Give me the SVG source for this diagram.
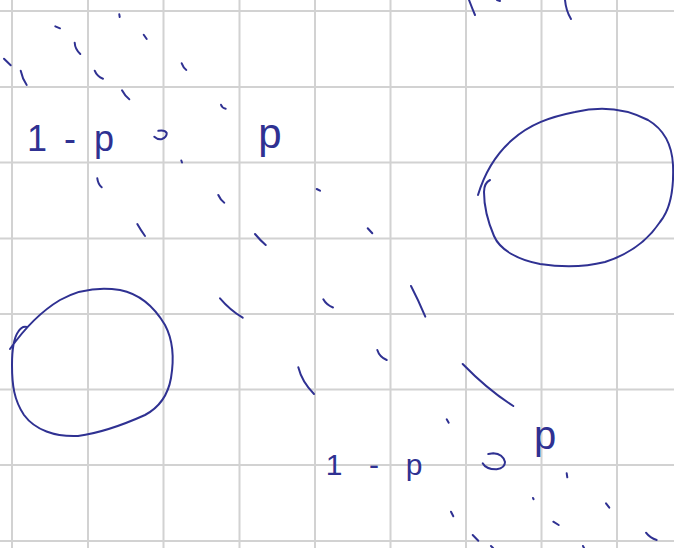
<svg xmlns="http://www.w3.org/2000/svg" width="674" height="548" viewBox="0 0 674 548">
<style>
.grid line{stroke:#d2d2d2;stroke-width:2}
.ink{fill:none;stroke:#2f3192;stroke-width:2;stroke-linecap:round;stroke-linejoin:round}
.lbl{font-family:"Liberation Sans","DejaVu Sans",sans-serif;fill:#2f3192;text-anchor:middle}
</style>
<rect width="674" height="548" fill="#ffffff"/>
<g class="grid" id="grid">
<line x1="12" y1="0" x2="12" y2="548"/><line x1="88" y1="0" x2="88" y2="548"/>
<line x1="163.5" y1="0" x2="163.5" y2="548"/><line x1="239.5" y1="0" x2="239.5" y2="548"/>
<line x1="315" y1="0" x2="315" y2="548"/><line x1="390.5" y1="0" x2="390.5" y2="548"/>
<line x1="466" y1="0" x2="466" y2="548"/><line x1="541.5" y1="0" x2="541.5" y2="548"/>
<line x1="617" y1="0" x2="617" y2="548"/>
<line x1="0" y1="11" x2="674" y2="11"/><line x1="0" y1="87" x2="674" y2="87"/>
<line x1="0" y1="162.5" x2="674" y2="162.5"/><line x1="0" y1="238.5" x2="674" y2="238.5"/>
<line x1="0" y1="314" x2="674" y2="314"/><line x1="0" y1="389.5" x2="674" y2="389.5"/>
<line x1="0" y1="465" x2="674" y2="465"/><line x1="0" y1="541" x2="674" y2="541"/>
</g>
<g id="circle-left">
<path class="ink" d="M10,349 C22,332 40,312 60,300 C78,290 100,287 120,290 C140,294 155,308 165,325 C173,340 174,360 171,378 C168,395 160,407 145,415 C125,424 100,433 78,436 C55,437 35,430 24,415 C14,400 12,385 12,365 C12,350 14,338 18,332 C21,327 24,326 27,327"/>
</g>
<g id="circle-right">
<path class="ink" d="M478,195 C484,175 495,155 512,140 C530,124 550,117 575,112 C600,106 625,108 648,120 C665,130 672,145 673,165 C674,190 670,210 660,222 C648,240 630,254 605,262 C585,267 560,267 540,264 C518,260 500,250 494,236 C488,222 484,205 484,192 C484,186 486,182 490,180"/>
</g>
<g id="strokes" class="ink">
<path d="M469,0 Q472,8 475,15"/>
<path d="M565,0 Q566,11 571,19"/>
<path d="M497,0 L500,1"/>
<path d="M4,58.7 L10.7,65.3"/>
<path d="M55.3,26.3 L60,28.3"/>
<path d="M74.7,42.7 Q75,49 80.3,54"/>
<path d="M20.7,70.7 Q22.5,79 26.7,85"/>
<path d="M119.3,14.3 L119.7,17"/>
<path d="M143.7,34.7 L146.7,39"/>
<path d="M94.7,70.7 Q97,76.5 103,78.7"/>
<path d="M122,90.3 Q125,96 129.3,99.3"/>
<path d="M181.7,63.3 Q183.5,68 186.3,70"/>
<path d="M221,104.7 Q222,108 225.7,108.7"/>
<path d="M154.3,136.7 Q158,140 162,139 Q167,137 166.7,133 Q165,129.5 158.3,130.7"/>
<path d="M181.3,160.5 L182,162.5"/>
<path d="M97.3,178.3 Q98,184 101.7,187.3"/>
<path d="M218.3,195 Q220.5,200 224.3,202.7"/>
<path d="M316.7,189 L320,190.7"/>
<path d="M137.3,224 Q140.7,230 145,236"/>
<path d="M255,234 Q260,240 265.7,245"/>
<path d="M367.7,228.3 L372.3,233.3"/>
<path d="M220,298.3 Q230,310 242.7,317.7"/>
<path d="M323.3,299.3 Q326.5,305 333,307.5"/>
<path d="M411,286 Q418.3,300 425.3,316.7"/>
<path d="M377.3,350 Q379.5,357 386.7,360"/>
<path d="M298.3,367.3 Q302,382 314,394"/>
<path d="M462.7,364 Q488,390 513.3,406"/>
<path d="M446.7,419.3 L448.7,422.7"/>
<path d="M482.7,463.3 Q486,469.5 496.7,469.3 Q505,468 505,462 Q503,454 493.3,453.3 L488.3,454"/>
<path d="M566.7,473.3 L567.3,477.3"/>
<path d="M533,498 L533.6,499.2"/>
<path d="M606,503.3 L609.3,507.7"/>
<path d="M451,511.7 L453.3,516.3"/>
<path d="M553.3,521.7 L558.7,525"/>
<path d="M646,532.7 Q650,538 656.7,540"/>
<path d="M472.7,535 L478.3,540.7"/>
<path d="M491,546 L493,548"/>
<path d="M583,546 L584,548"/>
</g>
<g id="labels">
<text class="lbl" font-size="36" y="151"><tspan x="37">1</tspan><tspan x="70">-</tspan><tspan x="104">p</tspan></text>
<text class="lbl" font-size="42" x="270" y="148">p</text>
<text class="lbl" font-size="30" y="475"><tspan x="334">1</tspan><tspan x="374">-</tspan><tspan x="414">p</tspan></text>
<text class="lbl" font-size="40" x="545" y="449">p</text>
</g>
</svg>
